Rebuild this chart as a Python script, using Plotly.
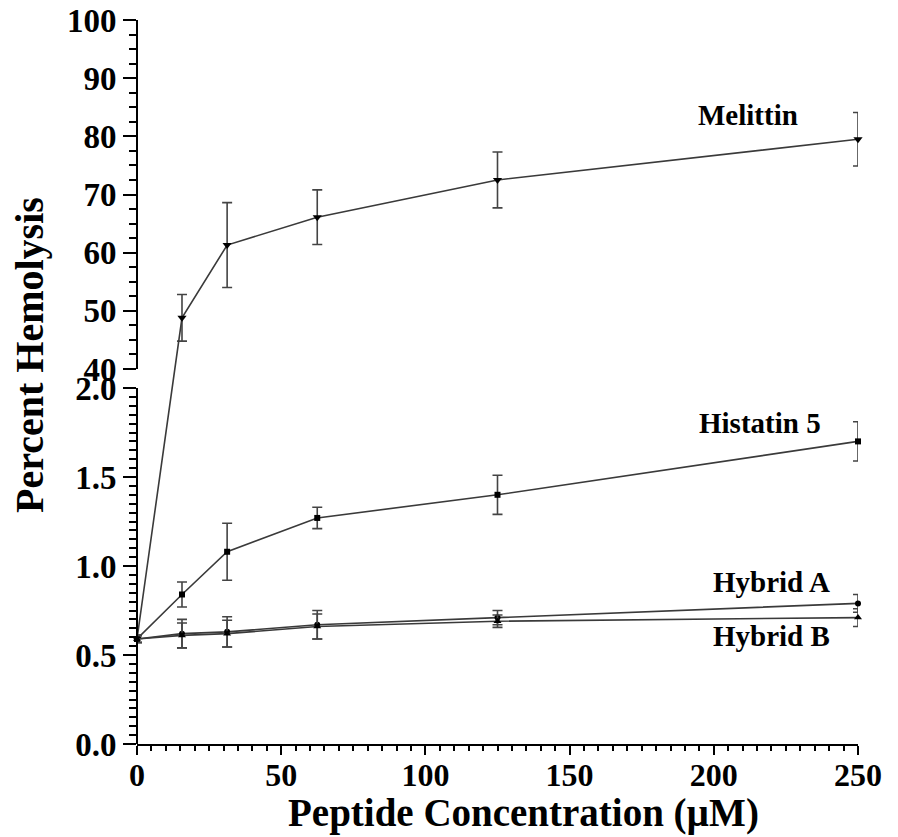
import plotly.graph_objects as go

# ---------------- data ----------------
conc = [0, 15.6, 31.25, 62.5, 125, 250]

melittin = [0.59, 48.8, 61.3, 66.1, 72.5, 79.5]
melittin_err = [0.02, 4.0, 7.3, 4.7, 4.8, 4.6]

histatin5 = [0.59, 0.84, 1.08, 1.27, 1.40, 1.70]
histatin5_err = [0.02, 0.07, 0.16, 0.06, 0.11, 0.11]

hybrid_a = [0.59, 0.62, 0.63, 0.67, 0.71, 0.79]
hybrid_a_err = [0.02, 0.08, 0.085, 0.08, 0.04, 0.05]

hybrid_b = [0.59, 0.61, 0.62, 0.66, 0.69, 0.71]
hybrid_b_err = [0.02, 0.07, 0.075, 0.07, 0.035, 0.05]

x_ticks = [0, 50, 100, 150, 200, 250]
low_ticks = [0.0, 0.5, 1.0, 1.5, 2.0]
high_ticks = [40, 50, 60, 70, 80, 90, 100]

# ---------------- broken-axis scale ----------------
# lower segment 0-2.0 and upper segment 40-100 on one display axis
LOW_MIN, LOW_MAX, LOW_D0, LOW_D1 = 0.0, 2.0, 0.0, 356.0
HIGH_MIN, HIGH_MAX, HIGH_D0, HIGH_D1 = 40.0, 100.0, 375.0, 724.0


def tf(v):
    if v <= LOW_MAX + 1e-9:
        return LOW_D0 + (v - LOW_MIN) / (LOW_MAX - LOW_MIN) * (LOW_D1 - LOW_D0)
    return HIGH_D0 + (v - HIGH_MIN) / (HIGH_MAX - HIGH_MIN) * (HIGH_D1 - HIGH_D0)


FONT = "Liberation Serif, Times New Roman, serif"
LINE_COLOR = "#3a3a3a"

series = [
    ("Melittin", melittin, melittin_err, "triangle-down", 8),
    ("Histatin 5", histatin5, histatin5_err, "square", 6),
    ("Hybrid A", hybrid_a, hybrid_a_err, "circle", 6),
    ("Hybrid B", hybrid_b, hybrid_b_err, "triangle-up", 7),
]

fig = go.Figure()
for name, vals, errs, sym, size in series:
    yd = [tf(v) for v in vals]
    up = [tf(v + e) - tf(v) for v, e in zip(vals, errs)]
    dn = [tf(v) - tf(v - e) for v, e in zip(vals, errs)]
    fig.add_trace(go.Scatter(
        x=conc, y=yd, mode="lines+markers", name=name,
        line=dict(color=LINE_COLOR, width=1.6),
        marker=dict(symbol=sym, size=size, color="black"),
        error_y=dict(type="data", array=up, arrayminus=dn, symmetric=False,
                     color="#444", thickness=1.6, width=5),
        cliponaxis=False, showlegend=False,
    ))

# axis line segments (broken)
for a, b in [(LOW_MIN, LOW_MAX), (HIGH_MIN, HIGH_MAX)]:
    fig.add_shape(type="line", xref="paper", yref="y", x0=0, x1=0,
                  y0=tf(a), y1=tf(b), line=dict(color="black", width=2))

major_vals = [tf(v) for v in low_ticks] + [tf(v) for v in high_ticks]
major_text = [f"{v:.1f}" for v in low_ticks] + [str(v) for v in high_ticks]

minor_vals = []
k = 0
while k * 0.05 <= LOW_MAX + 1e-9:
    v = round(k * 0.05, 2)
    if v not in low_ticks:
        minor_vals.append(tf(v))
    k += 1
k = 0
while HIGH_MIN + k * 2.5 <= HIGH_MAX + 1e-9:
    v = HIGH_MIN + k * 2.5
    if v not in high_ticks:
        minor_vals.append(tf(v))
    k += 1

labels = [
    ("Melittin", 212, 629),
    ("Histatin 5", 216, 321),
    ("Hybrid A", 220, 162),
    ("Hybrid B", 220, 108),
]
for txt, xx, yy in labels:
    fig.add_annotation(x=xx, y=yy, xref="x", yref="y", text=txt, showarrow=False,
                       font=dict(family=FONT, size=29, color="black", weight="bold"),
                       xanchor="center", yanchor="middle")

fig.add_annotation(x=-108 / 721, y=389, xref="paper", yref="y",
                   text="Percent Hemolysis", textangle=-90, showarrow=False,
                   font=dict(family=FONT, size=40, color="black", weight="bold"),
                   xanchor="center", yanchor="middle")
fig.add_annotation(x=134, y=-69 / 724, xref="x", yref="paper",
                   text="Peptide Concentration (µM)", showarrow=False,
                   font=dict(family=FONT, size=39, color="black", weight="bold"),
                   xanchor="center", yanchor="middle")

fig.update_layout(
    width=898, height=837,
    margin=dict(l=137, r=40, t=20, b=93, autoexpand=False),
    plot_bgcolor="white", paper_bgcolor="white",
    font=dict(family=FONT, color="black"),
    xaxis=dict(
        range=[0, 250], showgrid=False, zeroline=False, automargin=False,
        showline=True, linecolor="black", linewidth=2,
        tickmode="array", tickvals=x_ticks, ticktext=[str(v) for v in x_ticks],
        ticks="outside", ticklen=9, tickwidth=2, tickcolor="black",
        ticklabelstandoff=-7,
        tickfont=dict(family=FONT, size=32, color="black", weight="bold"),
        minor=dict(tickmode="linear", tick0=0, dtick=5, ticks="outside",
                   ticklen=5, tickwidth=1.5, tickcolor="black"),
    ),
    yaxis=dict(
        range=[0, 724], showgrid=False, zeroline=False, showline=False,
        automargin=False,
        tickmode="array", tickvals=major_vals, ticktext=major_text,
        ticks="outside", ticklen=13, tickwidth=2, tickcolor="black",
        tickfont=dict(family=FONT, size=33, color="black", weight="bold"),
        minor=dict(tickmode="array", tickvals=minor_vals, ticks="outside",
                   ticklen=7, tickwidth=1.5, tickcolor="black"),
    ),
)

fig.write_html("out.html")
